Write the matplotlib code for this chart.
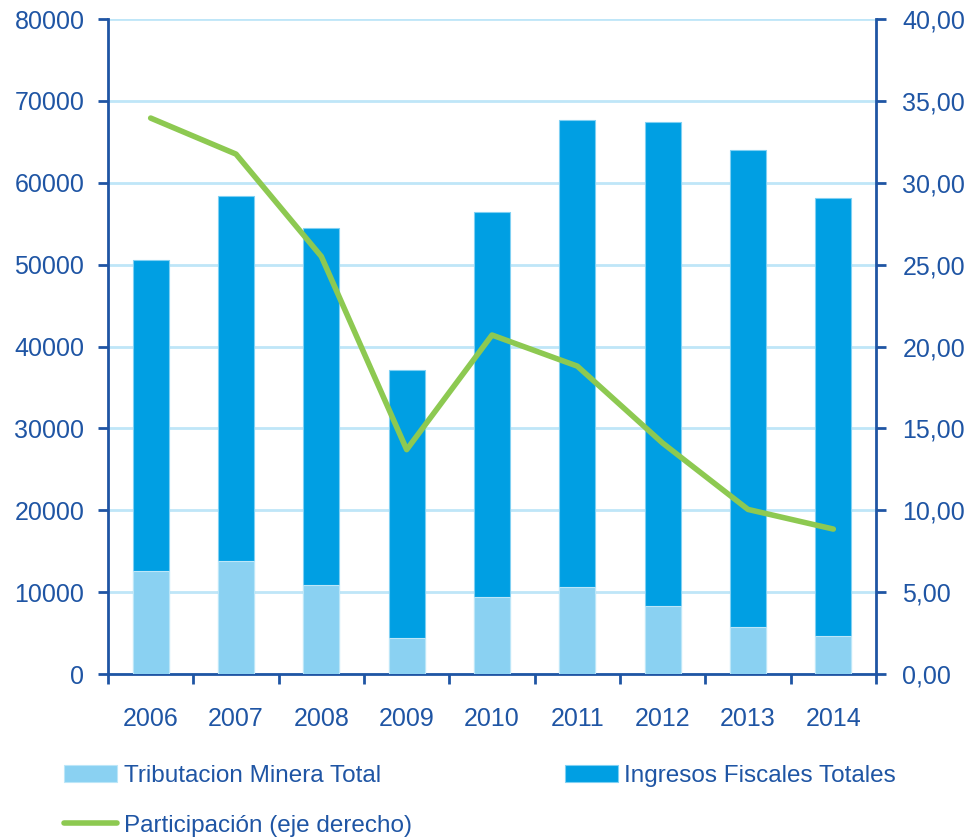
import matplotlib.pyplot as plt
import numpy as np

plt.rcParams['font.family'] = ['Liberation Sans', 'DejaVu Sans']

years = ['2006', '2007', '2008', '2009', '2010', '2011', '2012', '2013', '2014']
ingresos = [50550, 58400, 54450, 37100, 56400, 67650, 67400, 64000, 58150]
mineria = [12600, 13800, 10850, 4400, 9400, 10600, 8300, 5750, 4600]
participacion = [33.95, 31.75, 25.5, 13.7, 20.7, 18.8, 14.1, 10.05, 8.85]

blue_txt = '#1F55A4'
dark = '#009FE3'
light = '#8AD1F2'
green = '#8DC951'
gridc = '#BFE6F8'

fig = plt.figure(figsize=(9.65, 8.38), dpi=100)
ax = fig.add_axes([108/965, 1-674/838, 768/965, 655/838])
x = np.arange(len(years))
b1 = ax.bar(x, ingresos, width=0.42, color=dark, edgecolor='#7FD0F3', linewidth=0.8, zorder=2)
b2 = ax.bar(x, mineria, width=0.42, color=light, edgecolor='#BCE6F8', linewidth=0.8, zorder=3)
ax.set_xlim(-0.5, len(years) - 0.5)
ax.set_ylim(0, 80000)
ax.set_yticks(range(0, 80001, 10000))
ax.yaxis.grid(True, color=gridc, linewidth=2, zorder=0)
ax.set_axisbelow(True)
ax.set_xticks(x)
ax.set_xticklabels(years)
ax.set_xticks(np.arange(-0.5, len(years)), minor=True)
ax.tick_params(axis='x', which='major', length=0, pad=24, labelsize=18, labelcolor=blue_txt)
ax.tick_params(axis='x', which='minor', length=7, width=2, color=blue_txt, direction='out')
ax.tick_params(axis='y', length=7, width=2, color=blue_txt, labelsize=18, labelcolor=blue_txt, pad=10)
for s in ['top', 'right']:
    ax.spines[s].set_visible(False)
for s in ['left', 'bottom']:
    ax.spines[s].set_color(blue_txt)
    ax.spines[s].set_linewidth(2)

ax2 = ax.twinx()
l, = ax2.plot(x, participacion, color=green, linewidth=4, zorder=4, solid_capstyle='round')
ax2.set_ylim(0, 40)
ax2.set_yticks(range(0, 41, 5))
ax2.set_yticklabels([('%.2f' % v).replace('.', ',') for v in range(0, 41, 5)])
ax2.tick_params(axis='y', length=7, width=2, color=blue_txt, labelsize=18, labelcolor=blue_txt, pad=12)
for s in ['top', 'left', 'bottom']:
    ax2.spines[s].set_visible(False)
ax2.spines['right'].set_color(blue_txt)
ax2.spines['right'].set_linewidth(2)

fig.legend([b2, l, b1], ['Tributacion Minera Total', 'Participación (eje derecho)', 'Ingresos Fiscales Totales'],
           ncol=2, loc='upper left', bbox_to_anchor=(64/965, 1-765/838), frameon=False,
           fontsize=17.5, labelcolor=blue_txt, handlelength=2.2, handleheight=0.7,
           handletextpad=0.25, columnspacing=6.3, labelspacing=1.15, borderaxespad=0, borderpad=0)

fig.savefig('out.png', dpi=100)
